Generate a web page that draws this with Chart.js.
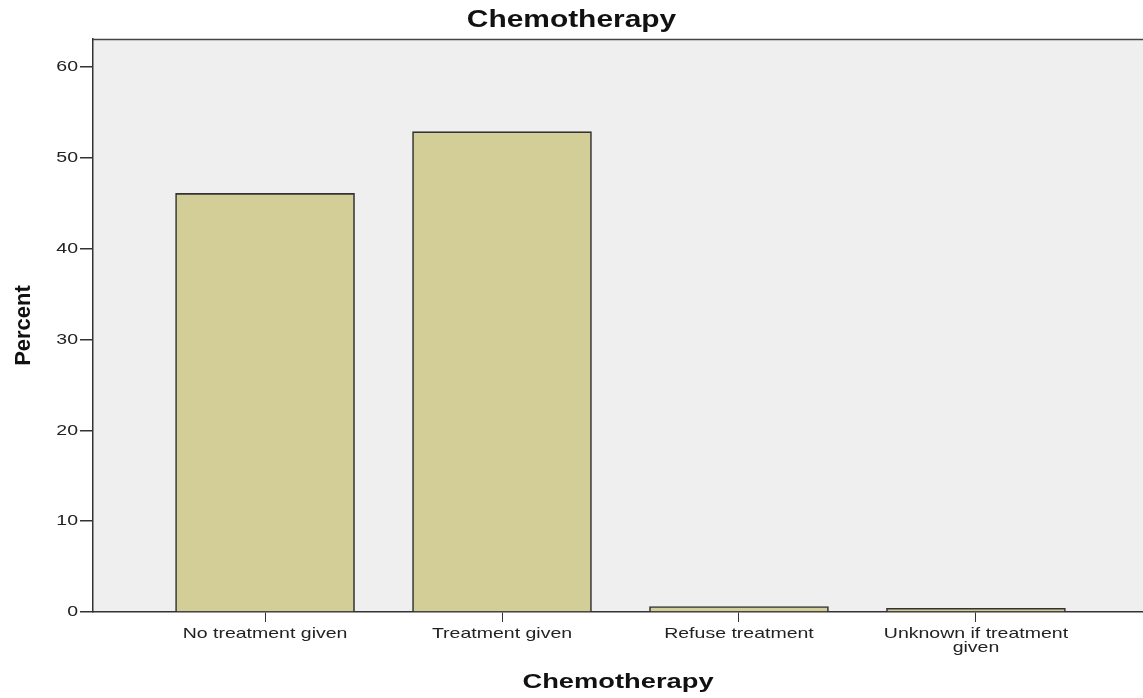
<!DOCTYPE html>
<html>
<head>
<meta charset="UTF-8">
<title>Chemotherapy</title>
<style>
  body { margin: 0; background: #fff; }
  .wrap { width: 1143px; height: 698px; }
</style>
</head>
<body>
<div class="wrap"><canvas id="chart"></canvas></div>
<script src="https://cdn.jsdelivr.net/npm/chart.js"></script>
<script>
// dữ liệu
const categories = ['No treatment given', 'Treatment given', 'Refuse treatment', ['Unknown if treatment', 'given']];
const positions = [0, 1, 2, 3];
const percents = [46.1, 52.9, 0.6, 0.4];
const yTicks = [0, 10, 20, 30, 40, 50, 60];

const FONT = '"Liberation Sans", Arial, sans-serif';
const STRETCH = 1.3; // the reference text is wider than normal

const canvas = document.getElementById('chart');
const ctx = canvas.getContext('2d');

// stretch horizontal text a bit so it looks like the picture
const origFill = ctx.fillText;
ctx.fillText = function (text, x, y) {
  const t = this.getTransform();
  if (Math.abs(t.b) > 0.01) return origFill.call(this, text, x, y);
  this.save();
  this.translate(x, y);
  this.scale(STRETCH, 1);
  origFill.call(this, text, 0, 0);
  this.restore();
};

const plotBg = {
  id: 'plotBg',
  beforeDraw(chart) {
    const { ctx, chartArea: a } = chart;
    ctx.save();
    ctx.fillStyle = '#efefef';
    ctx.fillRect(a.left, a.top, a.right - a.left, a.bottom - a.top);
    ctx.restore();
  },
  afterDraw(chart) {
    const { ctx, chartArea: a } = chart;
    ctx.save();
    ctx.strokeStyle = '#444';
    ctx.lineWidth = 1.5;
    ctx.beginPath();
    ctx.moveTo(a.left, a.top + 0.5);
    ctx.lineTo(a.right, a.top + 0.5);
    ctx.stroke();
    ctx.restore();
  }
};

new Chart(ctx, {
  type: 'bar',
  data: {
    datasets: [{
      data: positions.map((p, i) => ({ x: p, y: percents[i] })),
      backgroundColor: '#d3ce97',
      borderColor: '#333',
      borderWidth: 1.6,
      borderSkipped: 'bottom',
      barThickness: 179
    }]
  },
  options: {
    responsive: true,
    maintainAspectRatio: false,
    animation: false,
    layout: { padding: 0 },
    plugins: {
      legend: { display: false },
      tooltip: { enabled: false },
      title: {
        display: true,
        text: 'Chemotherapy',
        color: '#111',
        font: { family: FONT, size: 23, weight: 'bold', lineHeight: 1.2 },
        padding: { top: 6.5, bottom: 4.9 }
      }
    },
    scales: {
      x: {
        type: 'linear',
        min: -0.726,
        max: 3.705,
        offset: false,
        afterFit(s) { s.height = 86; },
        afterBuildTicks(s) { s.ticks = positions.map(v => ({ value: v })); },
        grid: { drawOnChartArea: false, offset: false, tickLength: 10, color: '#333', lineWidth: 1 },
        border: { display: true, color: '#333', width: 1.5 },
        ticks: {
          autoSkip: false,
          maxRotation: 0,
          padding: 4.5,
          color: '#222',
          font: { family: FONT, size: 15, lineHeight: 0.95 },
          callback: (v) => categories[v]
        },
        title: {
          display: true,
          text: 'Chemotherapy',
          color: '#111',
          font: { family: FONT, size: 21, weight: 'bold', lineHeight: 1.2 },
          padding: { top: 0, bottom: 3.6 }
        }
      },
      y: {
        min: 0,
        max: 63.1,
        afterFit(s) { s.width = 93; },
        afterBuildTicks(s) { s.ticks = yTicks.map(v => ({ value: v })); },
        grid: { drawOnChartArea: false, tickLength: 13, color: '#333', lineWidth: 1.5 },
        border: { display: true, color: '#333', width: 1.5 },
        ticks: {
          padding: 2,
          color: '#222',
          font: { family: FONT, size: 15 }
        },
        title: {
          display: true,
          text: 'Percent',
          color: '#111',
          font: { family: FONT, size: 22, weight: 'bold', lineHeight: 1.2 },
          padding: { top: 10.8, bottom: 0 }
        }
      }
    }
  },
  plugins: [plotBg]
});
</script>
</body>
</html>
